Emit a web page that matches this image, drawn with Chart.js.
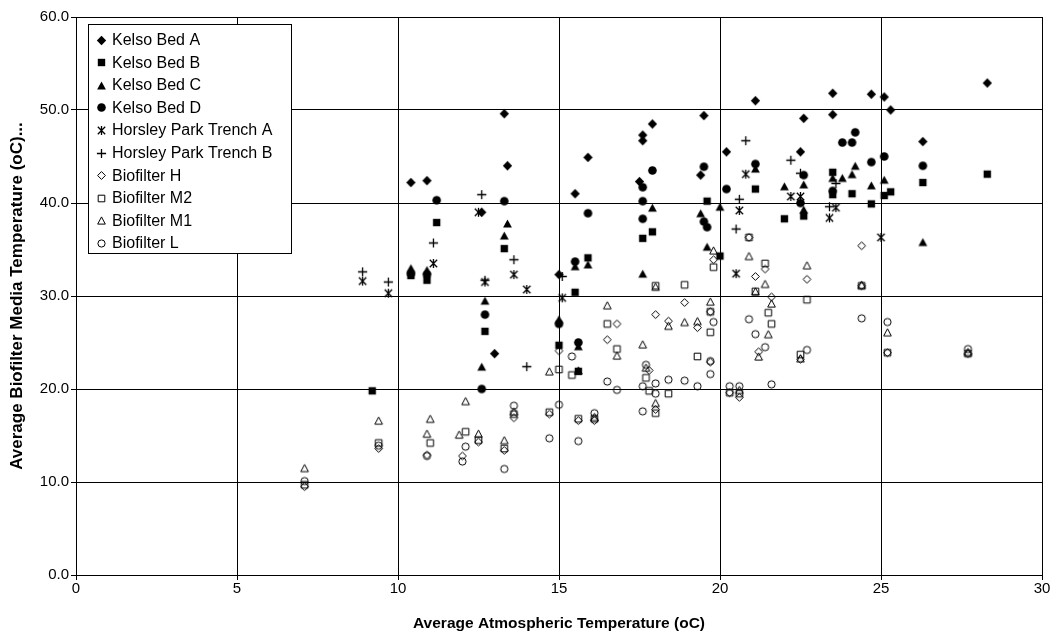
<!DOCTYPE html>
<html><head><meta charset="utf-8">
<script src="https://cdn.jsdelivr.net/npm/chart.js@4.4.0/dist/chart.umd.min.js"></script>
<style>html,body{margin:0;padding:0;background:#fff}canvas{display:block}</style>
</head><body>
<canvas id="c" width="1054" height="637"></canvas>
<script>
const seriesNames = ["Kelso Bed A","Kelso Bed B","Kelso Bed C","Kelso Bed D","Horsley Park Trench A","Horsley Park Trench B","Biofilter H","Biofilter M2","Biofilter M1","Biofilter L"];
const xTicks = [0,5,10,15,20,25,30];
const yTicks = [0,10,20,30,40,50,60];

const kelsoBedA = [[10.4,42.2],[10.9,42.4],[12.6,39.0],[13.0,23.8],[13.3,49.6],[13.4,44.0],[15.0,32.3],[15.5,41.0],[15.9,44.9],[17.5,42.3],[17.6,47.3],[17.6,46.7],[17.9,48.5],[19.4,43.0],[19.5,49.4],[20.2,45.5],[21.1,51.0],[22.5,45.5],[22.6,49.1],[23.5,51.8],[23.5,49.5],[24.7,51.7],[25.1,51.4],[25.3,50.0],[26.3,46.6],[28.3,52.9]];
const kelsoBedB = [[9.2,19.8],[10.4,32.2],[10.9,31.7],[11.2,37.9],[12.7,26.2],[13.3,35.1],[15.0,24.7],[15.5,30.4],[15.6,21.9],[15.9,34.1],[17.6,36.2],[17.9,36.9],[19.6,40.2],[20.0,34.3],[21.1,41.5],[22.0,38.3],[22.6,38.6],[23.5,43.3],[23.5,40.9],[24.1,41.0],[24.7,39.9],[25.1,40.8],[25.3,41.2],[26.3,42.2],[28.3,43.1]];
const kelsoBedC = [[10.4,33.0],[10.9,32.8],[12.6,22.4],[12.7,29.5],[13.3,36.5],[13.4,37.8],[15.0,27.5],[15.5,33.2],[15.6,24.6],[15.9,33.4],[17.6,32.4],[17.9,39.5],[19.4,38.9],[19.6,35.3],[20.0,39.6],[21.1,43.7],[22.0,41.8],[22.6,42.0],[22.6,39.3],[23.5,42.7],[23.8,42.7],[24.1,43.1],[24.2,44.0],[24.7,41.9],[25.1,42.5],[26.3,35.8]];
const kelsoBedD = [[10.4,32.4],[10.9,32.3],[11.2,40.3],[12.6,20.0],[12.7,28.0],[13.3,40.2],[15.0,27.0],[15.5,33.7],[15.6,25.0],[15.9,38.9],[17.6,41.7],[17.6,40.2],[17.6,38.3],[17.9,43.5],[19.5,38.0],[19.6,37.4],[19.5,43.9],[20.2,41.5],[21.1,44.2],[22.5,40.0],[22.6,43.0],[23.5,41.3],[23.8,46.5],[24.1,46.5],[24.2,47.6],[24.7,44.4],[25.1,45.0],[26.3,44.0]];
const horsleyA = [[8.9,31.6],[9.7,30.3],[11.1,33.5],[12.5,39.0],[12.7,31.5],[13.6,32.3],[14.0,30.7],[15.1,29.8],[20.5,32.4],[20.6,39.2],[20.8,43.1],[22.2,40.7],[22.5,40.7],[23.4,38.4],[23.6,39.5],[25.0,36.3]];
const horsleyB = [[8.9,32.6],[9.7,31.5],[11.1,35.7],[12.6,40.9],[12.7,31.7],[13.6,33.9],[14.0,22.4],[15.1,32.1],[20.5,37.2],[20.6,40.4],[20.8,46.7],[22.2,44.6],[22.5,43.2],[23.4,39.6],[23.6,42.1]];
const biofilterH = [[7.1,9.5],[9.4,13.6],[10.9,12.9],[12.0,12.8],[12.5,14.3],[13.3,13.4],[13.6,16.9],[14.7,17.3],[15.0,24.1],[15.6,16.6],[16.1,16.6],[16.5,25.3],[16.8,27.0],[17.8,22.0],[18.0,17.8],[18.0,28.0],[18.4,27.3],[18.9,29.3],[19.3,26.6],[19.7,22.9],[19.7,28.3],[19.8,33.9],[20.3,19.6],[20.6,19.1],[20.9,36.3],[21.1,32.1],[21.2,24.0],[21.4,32.9],[21.6,29.9],[22.5,23.2],[22.7,31.8],[24.4,35.4],[24.4,31.1],[25.2,23.9],[27.7,23.8]];
const biofilterM2 = [[7.1,9.7],[9.4,14.2],[11.0,14.2],[12.1,15.4],[12.5,14.5],[13.3,13.6],[13.6,17.3],[14.7,17.5],[15.0,22.1],[15.4,21.5],[15.6,16.8],[16.1,16.8],[16.5,27.0],[16.8,24.3],[17.7,21.2],[17.8,19.8],[18.0,17.4],[18.0,31.1],[18.4,19.5],[18.9,31.2],[19.3,23.5],[19.7,26.1],[19.7,28.3],[19.8,33.1],[20.3,19.6],[20.6,19.5],[20.9,36.3],[21.1,30.5],[21.4,33.5],[21.5,28.2],[21.6,27.0],[22.5,23.7],[22.7,29.6],[24.4,31.1],[25.2,23.9],[27.7,23.8]];
const biofilterM1 = [[7.1,11.5],[9.4,16.6],[10.9,15.2],[11.0,16.8],[11.9,15.1],[12.1,18.7],[12.5,15.2],[13.3,14.5],[13.6,17.6],[14.7,21.9],[15.6,22.0],[16.1,17.0],[16.5,29.0],[16.8,23.6],[17.6,24.8],[17.7,22.3],[18.0,18.5],[18.0,31.0],[18.4,26.8],[18.9,27.2],[19.3,27.3],[19.7,29.4],[19.8,34.9],[20.6,19.9],[20.9,34.3],[21.1,30.5],[21.2,23.5],[21.4,31.3],[21.5,25.9],[21.6,29.2],[22.5,23.3],[22.7,33.3],[24.4,31.2],[25.2,26.1],[27.7,24.0]];
const biofilterL = [[7.1,10.1],[9.4,13.9],[10.9,12.8],[12.0,12.2],[12.1,13.8],[13.3,11.4],[13.6,18.2],[14.7,14.7],[15.0,18.3],[15.4,23.5],[15.6,14.4],[16.1,17.4],[16.5,20.8],[16.8,19.9],[17.6,20.3],[17.6,17.6],[17.7,22.6],[18.0,20.6],[18.0,19.5],[18.4,21.0],[18.9,20.9],[19.3,20.3],[19.7,21.6],[19.7,23.0],[19.8,27.2],[20.3,20.3],[20.6,20.3],[20.9,27.5],[21.1,25.9],[21.4,24.5],[21.6,20.5],[22.7,24.2],[24.4,27.6],[25.2,27.2],[27.7,24.3]];

const allSeries = [kelsoBedA,kelsoBedB,kelsoBedC,kelsoBedD,horsleyA,horsleyB,biofilterH,biofilterM2,biofilterM1,biofilterL];
const markerTypes = ["diamond","square","triangle","circle","asterisk","plus","diamond","square","triangle","circle"];
const markerFilled = [true,true,true,true,false,false,false,false,false,false];

function makeMarker(type, filled){
  const S = 13, c = S/2;
  const cv = document.createElement('canvas');
  cv.width = S; cv.height = S;
  const g = cv.getContext('2d');
  g.fillStyle = '#000'; g.strokeStyle = '#000'; g.lineWidth = 1;
  g.beginPath();
  if (type === 'diamond'){
    const r = filled ? 4.7 : 3.9;
    g.moveTo(c, c-r); g.lineTo(c+r, c); g.lineTo(c, c+r); g.lineTo(c-r, c); g.closePath();
  } else if (type === 'square'){
    const h = filled ? 3.7 : 3.3;
    g.rect(c-h, c-h, 2*h, 2*h);
  } else if (type === 'triangle'){
    const w = filled ? 4.4 : 3.8, t = filled ? 4.1 : 3.6;
    g.moveTo(c, c-t); g.lineTo(c+w, c+t); g.lineTo(c-w, c+t); g.closePath();
  } else if (type === 'circle'){
    g.arc(c, c, filled ? 4.3 : 3.6, 0, Math.PI*2);
  } else if (type === 'asterisk'){
    g.lineWidth = 1.3;
    g.moveTo(c-3.7, c-3.7); g.lineTo(c+3.7, c+3.7);
    g.moveTo(c+3.7, c-3.7); g.lineTo(c-3.7, c+3.7);
    g.moveTo(c, c-4.6); g.lineTo(c, c+4.6);
  } else if (type === 'plus'){
    g.lineWidth = 1.3;
    g.moveTo(c-4.6, c); g.lineTo(c+4.6, c);
    g.moveTo(c, c-4.6); g.lineTo(c, c+4.6);
  }
  if (filled) g.fill(); else g.stroke();
  return cv;
}
const markers = markerTypes.map((t,i)=>makeMarker(t, markerFilled[i]));

const datasets = allSeries.map((s,i)=>({
  label: seriesNames[i],
  data: s.map(p=>({x:p[0], y:p[1]})),
  pointStyle: markers[i],
  pointRadius: 5,
  pointHoverRadius: 5,
  showLine: false,
  borderColor: '#000',
  backgroundColor: '#000'
}));

const FONT = "'Liberation Sans', Arial, sans-serif";

const legendBox = {
  id: 'legendBox',
  afterDraw(chart){
    const ctx = chart.ctx;
    const L = 88, T = 24, W = 203, H = 229;
    ctx.save();
    ctx.fillStyle = '#fff';
    ctx.fillRect(L, T, W, H);
    ctx.strokeStyle = '#000'; ctx.lineWidth = 1;
    ctx.strokeRect(L+0.5, T+0.5, W, H);
    ctx.font = "16px " + FONT;
    ctx.fillStyle = '#000';
    ctx.textBaseline = 'middle';
    for (let i=0;i<seriesNames.length;i++){
      const y = T + 16 + i*22.6;
      const m = markers[i];
      ctx.drawImage(m, Math.round(101 - m.width/2), Math.round(y - m.height/2));
      ctx.fillText(seriesNames[i], 112, y + 0.5);
    }
    ctx.restore();
  }
};

new Chart(document.getElementById('c'), {
  type: 'scatter',
  data: { datasets },
  options: {
    responsive: false,
    animation: false,
    devicePixelRatio: 1,
    layout: { padding: { top: 17, right: 12, left: 2, bottom: 2 } },
    plugins: { legend: { display: false }, tooltip: { enabled: false } },
    scales: {
      x: {
        type: 'linear', min: 0, max: 30,
        afterBuildTicks(scale){ scale.ticks = xTicks.map(v=>({value:v})); },
        afterFit(scale){ scale.height = 60; },
        ticks: { color: '#000', font: { family: FONT, size: 15 }, padding: 0, callback: v => String(v) },
        grid: { color: '#000', lineWidth: 1, tickLength: 5, tickColor: '#000' },
        border: { color: '#000', width: 1 },
        title: { display: true, text: 'Average Atmospheric Temperature (oC)', color: '#000', font: { family: FONT, size: 15.5, weight: 'bold' }, padding: { top: 4, bottom: 2 } }
      },
      y: {
        type: 'linear', min: 0, max: 60,
        afterBuildTicks(scale){ scale.ticks = yTicks.map(v=>({value:v})); },
        afterFit(scale){ scale.width = 74; },
        ticks: { color: '#000', font: { family: FONT, size: 15 }, padding: 2, callback: v => Number(v).toFixed(1) },
        grid: { color: '#000', lineWidth: 1, tickLength: 5, tickColor: '#000' },
        border: { color: '#000', width: 1 },
        title: { display: true, text: 'Average Biofilter Media Temperature (oC)...', color: '#000', font: { family: FONT, size: 17, weight: 'bold' }, padding: { top: 5, bottom: 2 } }
      }
    }
  },
  plugins: [legendBox]
});
</script>
</body></html>
